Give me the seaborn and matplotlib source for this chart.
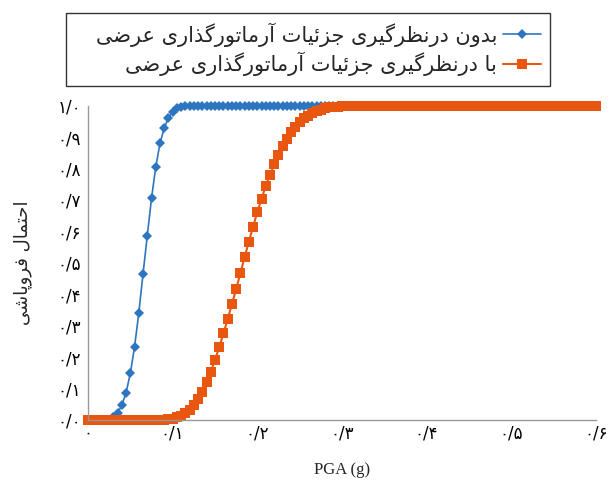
"""Fragility curves: collapse probability vs PGA, with and without transverse reinforcement detailing."""
import numpy as np
import pandas as pd
import matplotlib
matplotlib.use("Agg")
import matplotlib.pyplot as plt
import seaborn as sns

# PGA sampled every 0.005 g from 0 to 0.6 g
PGA_STEP = 0.005
PGA_COUNT = 121

# values (flat parts given as counts of zeros / ones)
without_detail = ([0.0] * 6
                  + [0.008, 0.022, 0.048, 0.087, 0.149, 0.233, 0.341, 0.465, 0.586, 0.705,
                     0.804, 0.880, 0.928, 0.962, 0.981, 0.991, 0.996, 0.998, 0.999]
                  + [1.0] * 96)
with_detail = ([0.0] * 18
               + [0.001, 0.002, 0.004, 0.008, 0.014, 0.022, 0.033, 0.047, 0.066, 0.090,
                  0.122, 0.154, 0.191, 0.231, 0.276, 0.320, 0.369, 0.416, 0.467, 0.518,
                  0.567, 0.615, 0.661, 0.703, 0.745, 0.779, 0.813, 0.843, 0.870, 0.894,
                  0.915, 0.933, 0.947, 0.959, 0.968, 0.976, 0.982, 0.987, 0.991, 0.994,
                  0.996, 0.997, 0.998, 0.999]
               + [1.0] * 59)

x_ticks = [0.0, 0.1, 0.2, 0.3, 0.4, 0.5, 0.6]
x_ticklabels = ["۰", "۰/۱", "۰/۲", "۰/۳", "۰/۴", "۰/۵", "۰/۶"]
y_ticks = [0.0, 0.1, 0.2, 0.3, 0.4, 0.5, 0.6, 0.7, 0.8, 0.9, 1.0]
y_ticklabels = ["۰/۰", "۰/۱", "۰/۲", "۰/۳", "۰/۴", "۰/۵", "۰/۶", "۰/۷", "۰/۸", "۰/۹", "۱/۰"]

label_without = "بدون درنظرگیری جزئیات آرماتورگذاری عرضی"
label_with = "با درنظرگیری جزئیات آرماتورگذاری عرضی"
y_title = "احتمال فروپاشی"
x_title = "PGA (g)"

BLUE = "#2e75c0"
ORANGE = "#e8560f"

# Arabic presentation forms: (isolated, final[, initial, medial])
FORMS = {
    "ا": ("\uFE8D", "\uFE8E"), "آ": ("\uFE81", "\uFE82"),
    "د": ("\uFEA9", "\uFEAA"), "ذ": ("\uFEAB", "\uFEAC"),
    "ر": ("\uFEAD", "\uFEAE"), "ز": ("\uFEAF", "\uFEB0"),
    "و": ("\uFEED", "\uFEEE"),
    "ب": ("\uFE8F", "\uFE90", "\uFE91", "\uFE92"),
    "ت": ("\uFE95", "\uFE96", "\uFE97", "\uFE98"),
    "ج": ("\uFE9D", "\uFE9E", "\uFE9F", "\uFEA0"),
    "ح": ("\uFEA1", "\uFEA2", "\uFEA3", "\uFEA4"),
    "ش": ("\uFEB5", "\uFEB6", "\uFEB7", "\uFEB8"),
    "ض": ("\uFEBD", "\uFEBE", "\uFEBF", "\uFEC0"),
    "ظ": ("\uFEC5", "\uFEC6", "\uFEC7", "\uFEC8"),
    "ع": ("\uFEC9", "\uFECA", "\uFECB", "\uFECC"),
    "ف": ("\uFED1", "\uFED2", "\uFED3", "\uFED4"),
    "ل": ("\uFEDD", "\uFEDE", "\uFEDF", "\uFEE0"),
    "م": ("\uFEE1", "\uFEE2", "\uFEE3", "\uFEE4"),
    "ن": ("\uFEE5", "\uFEE6", "\uFEE7", "\uFEE8"),
    "ئ": ("\uFE89", "\uFE8A", "\uFE8B", "\uFE8C"),
    "ی": ("\uFBFC", "\uFBFD", "\uFBFE", "\uFBFF"),
    "گ": ("\uFB92", "\uFB93", "\uFB94", "\uFB95"),
    "پ": ("\uFB56", "\uFB57", "\uFB58", "\uFB59"),
}


def shape(text: str) -> str:
    """Join Persian letters and reverse them for left-to-right drawing."""
    out = []
    for i, ch in enumerate(text):
        forms = FORMS.get(ch)
        if forms is None:
            out.append(ch)
            continue
        prev = text[i - 1] if i > 0 else ""
        nxt = text[i + 1] if i + 1 < len(text) else ""
        join_prev = prev in FORMS and len(FORMS[prev]) == 4
        join_next = len(forms) == 4 and nxt in FORMS
        if join_prev and join_next:
            out.append(forms[3])
        elif join_prev:
            out.append(forms[1])
        elif join_next:
            out.append(forms[2])
        else:
            out.append(forms[0])
    return "".join(reversed(out))


pga = np.round(np.arange(PGA_COUNT) * PGA_STEP, 3)
df = pd.DataFrame({"PGA": pga, "without": without_detail, "with": with_detail})

sns.set_style("white")
plt.rcParams["font.family"] = ["DejaVu Sans"]

fig = plt.figure(figsize=(6.13, 4.8), dpi=100)
ax = fig.add_axes([0.1436, 0.125, 0.8284, 0.655])

sns.lineplot(data=df, x="PGA", y="without", ax=ax, color=BLUE, marker="D",
             markersize=5.5, markeredgewidth=0, linewidth=1.2, clip_on=False,
             label="   " + shape(label_without))
sns.lineplot(data=df, x="PGA", y="with", ax=ax, color=ORANGE, marker="s",
             markersize=7.5, markeredgewidth=0, linewidth=1.5, clip_on=False,
             label=shape(label_with))

ax.set_xlim(0, 0.6)
ax.set_ylim(0, 1.0)
ax.set_xticks(x_ticks)
ax.set_xticklabels(x_ticklabels, fontsize=12)
ax.set_yticks(y_ticks)
ax.set_yticklabels(y_ticklabels, fontsize=12)
ax.tick_params(axis="both", direction="out", length=3, width=0.8, colors="#888888",
               labelcolor="black", pad=2)
ax.tick_params(axis="x", direction="inout", length=4, pad=1)

for side in ["top", "right"]:
    ax.spines[side].set_visible(False)
for side in ["left", "bottom"]:
    ax.spines[side].set_color("#999999")
    ax.spines[side].set_linewidth(1.0)

ax.set_xlabel(x_title, family="Liberation Serif", fontsize=12, labelpad=14)
ax.set_ylabel(shape(y_title), fontsize=13, labelpad=18)

handles, labels = ax.get_legend_handles_labels()
ax.get_legend().remove()
fig.legend(handles, labels, loc="upper center", bbox_to_anchor=(0.503, 0.973),
           borderaxespad=0, markerfirst=False, numpoints=1, fontsize=15,
           handlelength=1.8, frameon=True, fancybox=False, edgecolor="#333333",
           framealpha=1, borderpad=0.45, labelspacing=0.25, handletextpad=0.3)

fig.savefig("out.png", dpi=100)
